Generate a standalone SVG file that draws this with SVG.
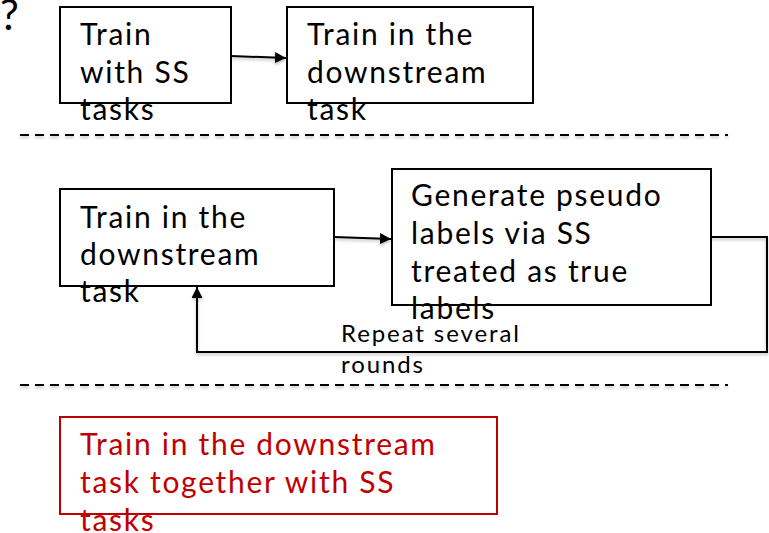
<svg xmlns="http://www.w3.org/2000/svg" width="769" height="533" viewBox="0 0 769 533">
<style>
.box{fill:#fff;stroke:#000;stroke-width:2}
.red{fill:#fff;stroke:#c00000;stroke-width:2}
.t{font-family:Lato,"Noto Sans",sans-serif;font-size:30px;letter-spacing:1.7px;fill:#000}
.tr{font-family:Lato,"Noto Sans",sans-serif;font-size:30px;letter-spacing:1.7px;fill:#c00000}
.s{font-family:Lato,"Noto Sans",sans-serif;font-size:24px;letter-spacing:1.9px;fill:#000}
.c{fill:none;stroke:#000;stroke-width:2}
.d{fill:none;stroke:#000;stroke-width:2;stroke-dasharray:9 6}
</style>
<defs>
<marker id="ah" viewBox="0 0 10 10" refX="10" refY="5" markerWidth="5.5" markerHeight="5.5" orient="auto" markerUnits="strokeWidth">
<path d="M0,0 L10,5 L0,10 z" fill="#000"/>
</marker>
<filter id="sh" x="-5%" y="-20%" width="110%" height="140%">
<feDropShadow dx="0" dy="2" stdDeviation="1.5" flood-color="#000" flood-opacity="0.25"/>
</filter>
</defs>
<rect width="769" height="533" fill="#fff"/>
<text class="t" x="0" y="30" style="font-size:42px;letter-spacing:0">?</text>
<g id="n1">
<rect class="box" x="60" y="7" width="171" height="96"/>
<text class="t" x="80" y="45">Train</text>
<text class="t" x="80" y="83">with SS</text>
<text class="t" x="80" y="120">tasks</text>
</g>
<g id="n2">
<rect class="box" x="287" y="7" width="246" height="96"/>
<text class="t" x="307" y="45">Train in the</text>
<text class="t" x="307" y="83">downstream</text>
<text class="t" x="307" y="120">task</text>
</g>
<g id="n3">
<rect class="box" x="60" y="189" width="274" height="97"/>
<text class="t" x="80" y="228">Train in the</text>
<text class="t" x="80" y="265">downstream</text>
<text class="t" x="80" y="302">task</text>
</g>
<g id="n4">
<rect class="box" x="392" y="169" width="319" height="136"/>
<text class="t" x="411" y="206">Generate pseudo</text>
<text class="t" x="411" y="244">labels via SS</text>
<text class="t" x="411" y="282">treated as true</text>
<text class="t" x="411" y="319">labels</text>
</g>
<g id="n5">
<rect class="red" x="60" y="417" width="437" height="97"/>
<text class="tr" x="80" y="455">Train in the downstream</text>
<text class="tr" x="80" y="493">task together with SS</text>
<text class="tr" x="80" y="531">tasks</text>
</g>
<g id="connectors" filter="url(#sh)">
<line class="d" x1="20" y1="135" x2="728" y2="135"/>
<line class="d" x1="20" y1="385" x2="728" y2="385"/>
<line class="c" x1="231" y1="56" x2="286" y2="58" marker-end="url(#ah)"/>
<line class="c" x1="334" y1="237" x2="391" y2="239" marker-end="url(#ah)"/>
<polyline class="c" points="711,237 767,237 767,352 197,352 197,287" marker-end="url(#ah)"/>
</g>
<g id="label">
<text class="s" x="341" y="342">Repeat several</text>
<text class="s" x="341" y="373">rounds</text>
</g>
</svg>
